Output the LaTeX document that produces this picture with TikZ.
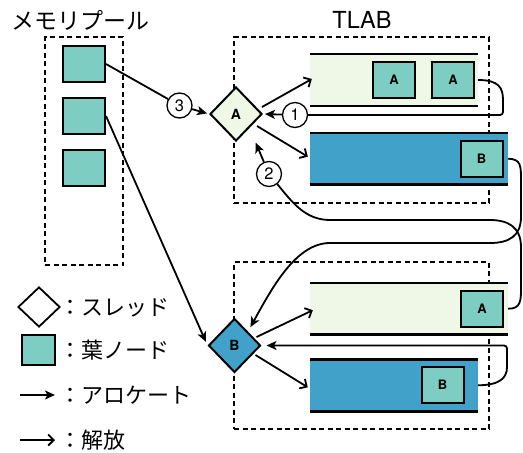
\documentclass[tikz,border=0pt]{standalone}
\usepackage{fontspec}
\setmainfont{TeX Gyre Heros}
\newfontfamily\jpfont{Noto Sans CJK JP}
\usepackage{tikz}
\usetikzlibrary{shapes.geometric,arrows.meta}

\definecolor{leafteal}{RGB}{126,205,195}
\definecolor{bufgreen}{RGB}{239,247,230}
\definecolor{bufblue}{RGB}{66,161,201}

\begin{document}
\begin{tikzpicture}[x=1pt,y=-1pt]
    \tikzstyle{every node}=[inner sep=0pt]
    \tikzstyle{group}=[draw,line width=1.8pt,dash pattern=on 5pt off 3.5pt]
    \tikzstyle{leaf}=[rectangle,draw,line width=2pt,fill=leafteal,minimum width=42pt,minimum height=36pt,font=\bfseries\fontsize{13}{13}\selectfont]
    \tikzstyle{thread}=[diamond,draw,line width=2pt,minimum width=52pt,minimum height=54pt,font=\bfseries\fontsize{14}{14}\selectfont]
    \tikzstyle{buffer}=[rectangle,minimum height=51.5pt]
    \tikzstyle{bufedge}=[line width=2.5pt]
    \tikzstyle{num}=[circle,draw,fill=white,line width=1.3pt,minimum size=25pt,font=\fontsize{16.5}{16.5}\selectfont]
    \tikzstyle{alloc}=[line width=1.8pt,-{Stealth[length=10pt,width=9pt,inset=2.5pt]}]
    \tikzstyle{free}=[line width=1.8pt,-{Straight Barb[length=5.5pt,width=11pt]}]
    \tikzstyle{legend}=[anchor=west,font=\jpfont\fontsize{22}{22}\selectfont]

    \useasboundingbox (0,0) rectangle (523,453);

    % Dashed groups and their titles
    \node[group,minimum width=78pt,minimum height=228pt] (pool) at (84,151) {};
    \node[group,minimum width=255pt,minimum height=166pt] (tlabA) at (361.5,120) {};
    \node[group,minimum width=255pt,minimum height=167pt] (tlabB) at (361.5,345.5) {};
    \node[anchor=west,font=\jpfont\fontsize{23}{23}\selectfont] (pooltitle) at (11,20) {メモリプール};
    \node[font=\fontsize{23.5}{23.5}\selectfont] (tlabtitle) at (362,20) {TLAB};

    % Draw the free leaves in the pool
    \foreach \name/\y in {1/64,2/116,3/167.5}
        \node[leaf] (M-\name) at (84,\y) {};

    % Draw the buffers of each thread
    \node[buffer,fill=bufgreen,minimum width=168pt] (bufA1) at (394,80) {};
    \node[buffer,fill=bufblue,minimum width=198pt] (bufB1) at (409,158.7) {};
    \node[buffer,fill=bufgreen,minimum width=198pt] (bufA2) at (409,308.7) {};
    \node[buffer,fill=bufblue,minimum width=168pt] (bufB2) at (394,385.3) {};
    \foreach \b in {bufA1,bufB1,bufA2,bufB2}
        \draw[bufedge] (\b.north west) -- (\b.north east) (\b.south west) -- (\b.south east);

    % Leaves held in the buffers
    \node[leaf] (L-A1) at (394,80) {A};
    \node[leaf] (L-A2) at (453,80) {A};
    \node[leaf] (L-B1) at (481.5,158.5) {B};
    \node[leaf] (L-A3) at (482,308.5) {A};
    \node[leaf] (L-B2) at (442.5,385) {B};

    % Threads
    \node[thread,fill=bufgreen] (T-A) at (236,114) {A};
    \node[thread,fill=bufblue] (T-B) at (234.5,345.5) {B};

    % Step numbers
    \node[num] (S-1) at (295,115) {1};
    \node[num] (S-2) at (269,174) {2};
    \node[num] (S-3) at (179.5,105.5) {3};

    % Allocation from the pool
    \draw[alloc,shorten >=2pt] (M-1.east) -- (S-3) -- (T-A.west);
    \draw[alloc,shorten >=4pt] (M-2.east) -- (T-B.west);

    % Threads fill their buffers
    \draw[free] ([shift={(-1,-7)}]T-A.east) -- ([shift={(2,-1)}]bufA1.west);
    \draw[free] ([shift={(-6,12)}]T-A.east) -- ([shift={(-2,-2)}]bufB1.west);
    \draw[free] ([shift={(-5,-8.5)}]T-B.east) -- ([shift={(3,1.5)}]bufA2.west);
    \draw[free] ([shift={(-6,9.5)}]T-B.east) -- ([shift={(-2,2)}]bufB2.west);

    % Leaves going back to a thread
    \draw[alloc,rounded corners=3pt,shorten >=2pt] (bufA1.east) .. controls (499,80) and (503,88) .. (503,103) -- (503,115) -- (S-1) -- (T-A.east);
    \draw[alloc,shorten >=16pt] (bufA2.east) .. controls (521,309) and (521,300) .. (521,288) -- (521,247) .. controls (521,227) and (508,220) .. (490,220) -- (330,220) .. controls (305,220) and (292,202) .. (S-2) -- (T-A.south east);
    \draw[alloc,shorten >=5pt] (bufB1.east) .. controls (521,159) and (521,166) .. (521,180) -- (521,217) .. controls (521,236) and (509,243) .. (490,243) -- (330,243) .. controls (296,243) and (272,288) .. (T-B.north east);
    \draw[alloc,rounded corners=3pt,shorten >=5pt] (bufB2.east) .. controls (500,385) and (507,378) .. (507,364) -- (507,345.5) -- (T-B.east);

    % Legend
    \node[thread,fill=white,minimum width=42pt,minimum height=40pt,line width=1.8pt] (key-thread) at (39,307) {};
    \node[legend] (key-thread-text) at (59,308) {：スレッド};
    \node[leaf,minimum width=33pt,minimum height=30pt] (key-leaf) at (38.5,350) {};
    \node[legend] (key-leaf-text) at (59,350) {：葉ノード};
    \coordinate (key-alloc-a) at (20,395);
    \coordinate (key-alloc-b) at (55,395);
    \draw[alloc] (key-alloc-a) -- (key-alloc-b);
    \node[legend] (key-alloc-text) at (59,395) {：アロケート};
    \coordinate (key-free-a) at (20,440);
    \coordinate (key-free-b) at (55,440);
    \draw[free] (key-free-a) -- (key-free-b);
    \node[legend] (key-free-text) at (59,440) {：解放};
\end{tikzpicture}
\end{document}
